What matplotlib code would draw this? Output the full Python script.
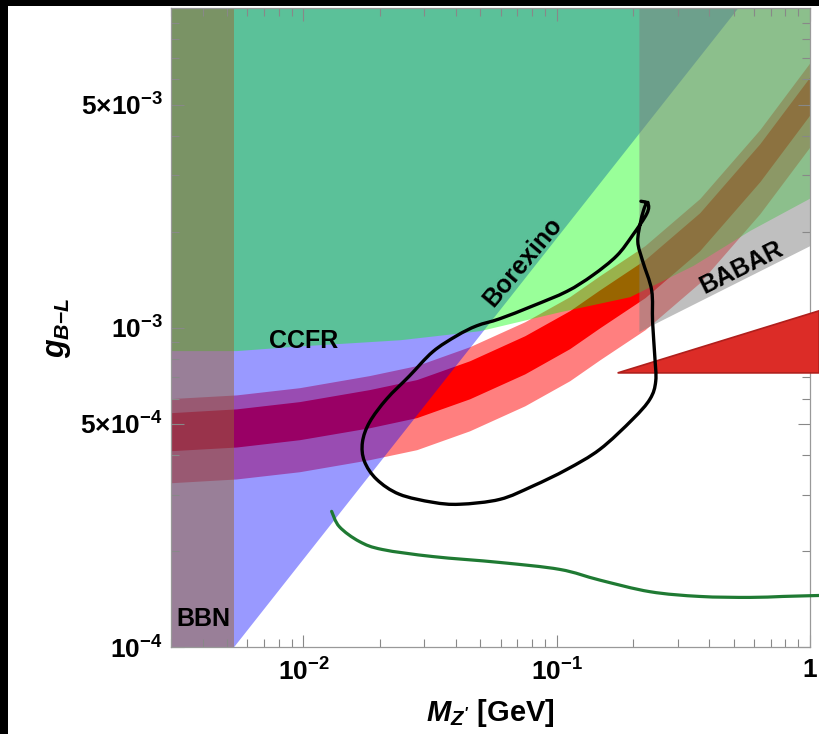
import matplotlib
matplotlib.use('Agg')
import numpy as np
import matplotlib.pyplot as plt
from matplotlib.patches import Rectangle, PathPatch
from matplotlib.path import Path
from matplotlib.ticker import FixedLocator, FixedFormatter, NullFormatter

plt.rcParams.update({
    'font.family': 'Liberation Sans',
    'font.weight': 'bold',
    'mathtext.fontset': 'custom',
    'mathtext.rm': 'Liberation Sans:bold',
    'mathtext.it': 'Liberation Sans:bold:italic',
    'mathtext.bf': 'Liberation Sans:bold',
})

# ---- data (M in GeV, g dimensionless) ----
band_M = [3.0e-3, 5.43e-3, 9.65e-3, 0.0182, 0.028, 0.0453, 0.0748, 0.1125, 0.148, 0.223, 0.367, 0.634, 1.0]
outer_lo = [3.27e-4, 3.36e-4, 3.54e-4, 3.86e-4, 4.15e-4, 4.755e-4, 5.694e-4, 6.823e-4, 7.937e-4, 9.856e-4, 1.384e-3, 2.277e-3, 3.69e-3]
outer_hi = [6.00e-4, 6.16e-4, 6.49e-4, 7.08e-4, 7.61e-4, 8.72e-4, 1.044e-3, 1.251e-3, 1.456e-3, 1.808e-3, 2.538e-3, 4.176e-3, 6.77e-3]
inner_lo = [4.12e-4, 4.23e-4, 4.46e-4, 4.86e-4, 5.23e-4, 5.99e-4, 7.17e-4, 8.60e-4, 1.000e-3, 1.242e-3, 1.744e-3, 2.869e-3, 4.65e-3]
inner_hi = [5.42e-4, 5.57e-4, 5.87e-4, 6.40e-4, 6.88e-4, 7.88e-4, 9.44e-4, 1.131e-3, 1.315e-3, 1.633e-3, 2.293e-3, 3.773e-3, 6.11e-3]

ccfr_M = [3.0e-3, 5.43e-3, 9.65e-3, 0.024, 0.0496, 0.1026, 0.194, 0.345, 0.58, 1.0]
ccfr_g = [8.48e-4, 8.48e-4, 8.77e-4, 9.17e-4, 9.79e-4, 1.122e-3, 1.251e-3, 1.567e-3, 2.02e-3, 2.55e-3]

borexino_M = [5.33e-3, 0.52]
borexino_g = [1e-4, 1e-2]

babar_M = [0.212, 1.0]
babar_g = [9.7e-4, 1.8e-3]

bbn_M = 5.33e-3

contour_M = [0.215, 0.229, 0.227, 0.1995, 0.1725, 0.1387, 0.1097, 0.0803, 0.0596, 0.0483, 0.0403,
             0.0324, 0.0262, 0.0213, 0.01824, 0.0171, 0.0174, 0.01946, 0.0239, 0.0324, 0.0414,
             0.0596, 0.0803, 0.1097, 0.148, 0.1995, 0.2335, 0.246, 0.2438, 0.239, 0.237, 0.2188,
             0.209, 0.215, 0.223, 0.229]
contour_g = [2.49e-3, 2.45e-3, 2.28e-3, 1.95e-3, 1.68e-3, 1.46e-3, 1.30e-3, 1.17e-3, 1.067e-3, 1.014e-3, 9.44e-4,
             8.41e-4, 7.06e-4, 5.98e-4, 5.06e-4, 4.38e-4, 3.82e-4, 3.35e-4, 3.01e-4, 2.84e-4, 2.80e-4,
             2.90e-4, 3.19e-4, 3.60e-4, 4.16e-4, 5.17e-4, 5.98e-4, 6.81e-4, 8.17e-4, 1.044e-3, 1.31e-3, 1.61e-3,
             1.86e-3, 2.17e-3, 2.40e-3, 2.47e-3]

green_M = [0.01292, 0.01387, 0.01663, 0.0205, 0.0324, 0.0596, 0.1028, 0.148, 0.2335, 0.367, 0.579, 0.782, 1.086]
green_g = [2.66e-4, 2.38e-4, 2.14e-4, 2.02e-4, 1.92e-4, 1.84e-4, 1.75e-4, 1.62e-4, 1.49e-4, 1.44e-4, 1.43e-4, 1.44e-4, 1.45e-4]

tri_M = [0.174, 1.086, 1.086]
tri_g = [7.22e-4, 1.13e-3, 7.22e-4]

XLO, XHI = 3e-3, 1.0
YLO, YHI = 1e-4, 1e-2


def smooth_path(xs, ys):
    # Catmull-Rom through the points, drawn as cubic Bezier segments in log space
    p = np.column_stack([np.log10(xs), np.log10(ys)])
    verts, codes = [p[0]], [Path.MOVETO]
    n = len(p)
    for i in range(n - 1):
        p0 = p[max(i - 1, 0)]; p1 = p[i]; p2 = p[i + 1]; p3 = p[min(i + 2, n - 1)]
        verts += [p1 + (p2 - p0) / 6, p2 - (p3 - p1) / 6, p2]
        codes += [Path.CURVE4] * 3
    return Path(10 ** np.array(verts), codes)


fig = plt.figure(figsize=(8.1901, 7.3401), dpi=100)
ax = fig.add_axes([171 / 819, 1 - 647 / 734, 639 / 819, 638.5 / 734])
ax.set_xscale('log'); ax.set_yscale('log')

# g-2 band
ax.fill_between(band_M, inner_lo, inner_hi, color=(1, 0, 0), lw=0, zorder=1)
ax.fill_between(band_M, outer_lo, outer_hi, color=(1, 0, 0), alpha=0.5, lw=0, zorder=1.1)
# Borexino
ax.fill([XLO, borexino_M[0], borexino_M[1], XLO], [YLO, borexino_g[0], borexino_g[1], YHI],
        color=(0, 0, 1), alpha=0.4, lw=0, zorder=1.2)
# CCFR
ax.fill_between(ccfr_M, ccfr_g, YHI, color=(0, 1, 0), alpha=0.4, lw=0, zorder=1.3)
# BABAR
ax.fill([babar_M[0], babar_M[1], babar_M[1], babar_M[0]], [babar_g[0], babar_g[1], YHI, YHI],
        color=(0.5, 0.5, 0.5), alpha=0.5, lw=0, zorder=1.4)
# BBN
ax.axvspan(XLO, bbn_M, color=(0.6, 0.4, 0.2), alpha=0.5, lw=0, zorder=1.5)

lab = dict(fontsize=18, weight='bold', ha='center', va='center', zorder=3)
ax.text(1.0e-2, 9.1e-4, 'CCFR', **lab)
ax.text(4.03e-3, 1.22e-4, 'BBN', **lab)
ax.text(0.0735, 1.61e-3, 'Borexino', rotation=50, **lab)
ax.text(0.538, 1.54e-3, 'BABAR', rotation=26.5, **lab)

ax.fill(tri_M, tri_g, facecolor='#dc2c27', edgecolor='#b01f1c', lw=1.2, clip_on=False, zorder=5)
ax.add_patch(PathPatch(smooth_path(green_M, green_g), fill=False, edgecolor='#1f7a33', lw=2.3,
                       capstyle='round', clip_on=False, zorder=6))
ax.add_patch(PathPatch(smooth_path(contour_M, contour_g), fill=False, edgecolor='black', lw=2.4,
                       joinstyle='round', capstyle='round', zorder=6))

ax.set_xlim(XLO, XHI); ax.set_ylim(YLO, YHI)

ax.xaxis.set_major_locator(FixedLocator([1e-2, 1e-1, 1]))
ax.xaxis.set_major_formatter(FixedFormatter([r'$10^{-2}$', r'$10^{-1}$', r'$1$']))
ax.xaxis.set_minor_locator(FixedLocator([m * 10.0 ** e for e in (-3, -2, -1) for m in range(2, 10)]))
ax.xaxis.set_minor_formatter(NullFormatter())
ax.yaxis.set_major_locator(FixedLocator([1e-4, 5e-4, 1e-3, 5e-3]))
ax.yaxis.set_major_formatter(FixedFormatter([r'$10^{-4}$', r'$5{\times}10^{-4}$', r'$10^{-3}$', r'$5{\times}10^{-3}$']))
ax.yaxis.set_minor_locator(FixedLocator([m * 10.0 ** e for e in (-4, -3) for m in (2, 3, 4, 6, 7, 8, 9)]))
ax.yaxis.set_minor_formatter(NullFormatter())

ax.tick_params(which='both', direction='in', top=True, right=True, color='#888888', width=0.8, labelsize=19)
ax.tick_params(which='major', length=9)
ax.tick_params(which='minor', length=6)
ax.tick_params(axis='x', pad=8)
ax.tick_params(axis='y', pad=6)
for s in ax.spines.values():
    s.set_color('#999999'); s.set_linewidth(0.9)

ax.set_xlabel(r"$M_{Z'}$ [GeV]", fontsize=21, weight='bold')
ax.xaxis.set_label_coords(0.5, -0.103)
ax.xaxis.label.set_va('center')
ax.set_ylabel(r'$g_{B{-}L}$', fontsize=22)
ax.yaxis.set_label_coords(-0.177, 0.5)
ax.yaxis.label.set_va('center')

fig.add_artist(Rectangle((0, 0), 8 / 819, 1, transform=fig.transFigure, fc='black', ec='none', zorder=10))
fig.add_artist(Rectangle((0, 1 - 6 / 734), 1, 6 / 734, transform=fig.transFigure, fc='black', ec='none', zorder=10))

fig.savefig('out.png', dpi=100, facecolor='white')
